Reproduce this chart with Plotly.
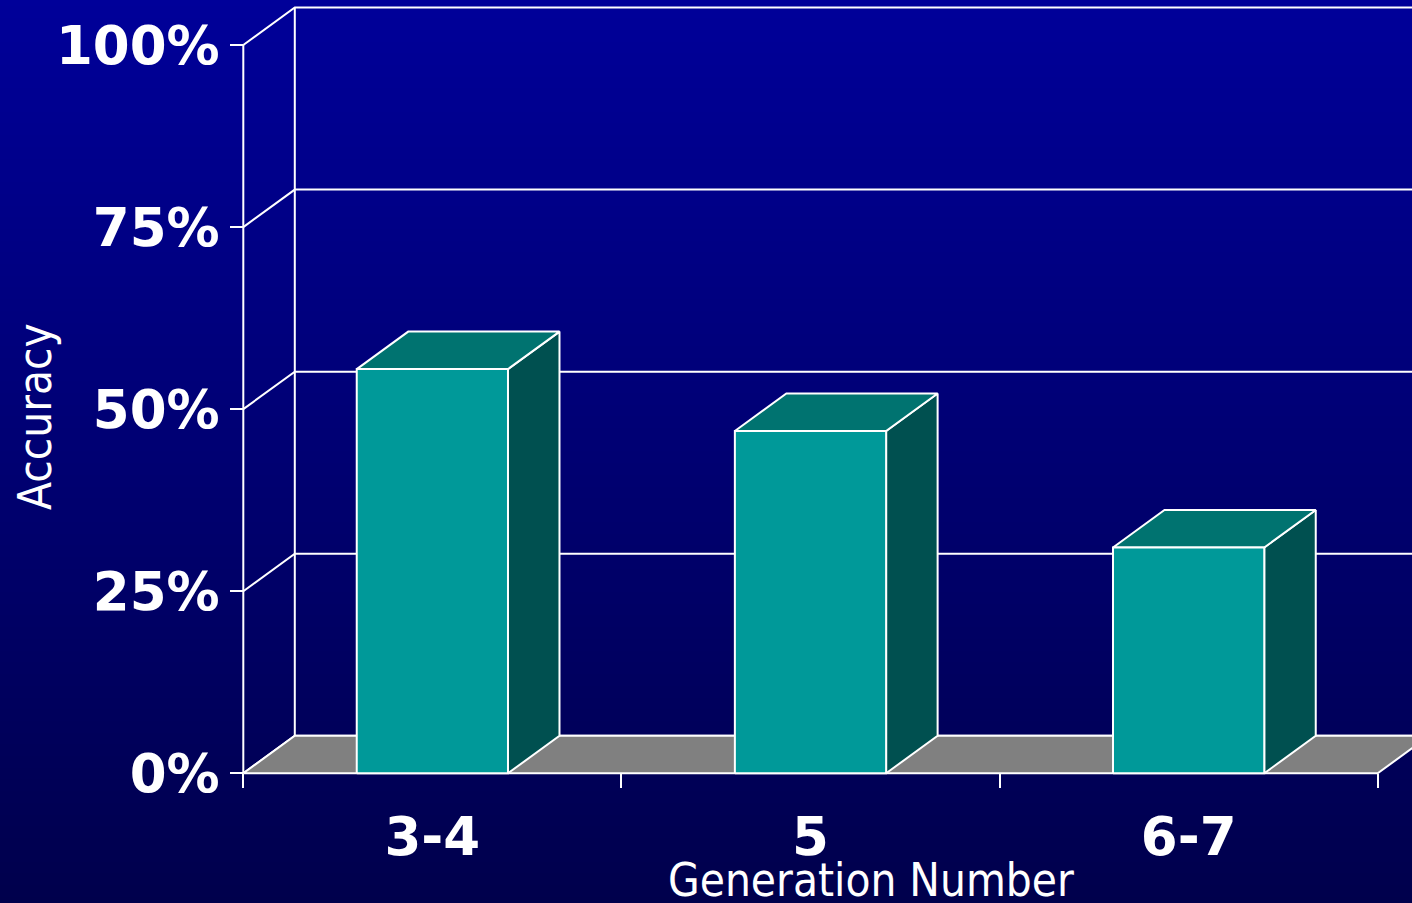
import base64
import struct
import zlib

import plotly.graph_objects as go

# ---------------- data ----------------
categories = ["3-4", "5", "6-7"]
accuracy = [55.5, 47.0, 31.0]          # percent
y_ticks = [0, 25, 50, 75, 100]
y_tick_labels = ["0%", "25%", "50%", "75%", "100%"]
x_title = "Generation Number"
y_title = "Accuracy"

# ---------------- style / geometry ----------------
W, H = 1412, 903
X_ORIGIN_PX, X_UNIT_PX = 243.3, 378.13      # category unit width in px
Y_ORIGIN_PX, Y_UNIT_PX = 773.3, 7.283       # px per percent
X_RANGE = [-X_ORIGIN_PX / X_UNIT_PX, (W - X_ORIGIN_PX) / X_UNIT_PX]
Y_RANGE = [-(H - Y_ORIGIN_PX) / Y_UNIT_PX, Y_ORIGIN_PX / Y_UNIT_PX]
DX = 51.5 / X_UNIT_PX        # 3-D depth offset (category units)
DY = 37.5 / Y_UNIT_PX        # 3-D depth offset (percent units)
BAR_HALF = 0.2

FRONT = "#009999"
TOP = "#007370"
SIDE = "#005050"
FLOOR = "#808080"
EDGE = "white"
LW = 2
BOLD_FONT = "DejaVu Sans"
TITLE_FONT = "DejaVu Sans Condensed, DejaVu Sans"


def gradient_png(top, bottom, height):
    raw = b""
    for i in range(height):
        t = i / (height - 1)
        px = bytes(int(round(a + (b - a) * t)) for a, b in zip(top, bottom))
        raw += b"\x00" + px

    def chunk(tag, data):
        return (struct.pack(">I", len(data)) + tag + data
                + struct.pack(">I", zlib.crc32(tag + data) & 0xFFFFFFFF))

    png = (b"\x89PNG\r\n\x1a\n"
           + chunk(b"IHDR", struct.pack(">IIBBBBB", 1, height, 8, 2, 0, 0, 0))
           + chunk(b"IDAT", zlib.compress(raw, 9))
           + chunk(b"IEND", b""))
    return "data:image/png;base64," + base64.b64encode(png).decode()


n = len(categories)
centers = [i + 0.5 for i in range(n)]
bounds = list(range(n + 1))

fig = go.Figure()

# back wall gridlines and left wall slants
gx, gy = [], []
for v in y_ticks:
    gx += [0, DX, n + DX, None]
    gy += [v, v + DY, v + DY, None]
gx += [DX, DX, None]
gy += [y_ticks[0] + DY, y_ticks[-1] + DY, None]
fig.add_trace(go.Scatter(x=gx, y=gy, mode="lines",
                         line=dict(color=EDGE, width=LW), hoverinfo="skip"))

# floor
fig.add_trace(go.Scatter(x=[0, n, n + DX, DX, 0], y=[0, 0, DY, DY, 0],
                         mode="lines", fill="toself", fillcolor=FLOOR,
                         line=dict(color=EDGE, width=LW), hoverinfo="skip"))

# 3-D bars
for c, v in zip(centers, accuracy):
    l, r = c - BAR_HALF, c + BAR_HALF
    faces = [
        (SIDE, [r, r + DX, r + DX, r, r], [0, DY, v + DY, v, 0]),
        (TOP, [l, r, r + DX, l + DX, l], [v, v, v + DY, v + DY, v]),
        (FRONT, [l, r, r, l, l], [0, 0, v, v, 0]),
    ]
    for col, fx, fy in faces:
        fig.add_trace(go.Scatter(x=fx, y=fy, mode="lines", fill="toself",
                                 fillcolor=col,
                                 line=dict(color=EDGE, width=LW),
                                 hoverinfo="skip"))

# front value axis line
fig.add_trace(go.Scatter(x=[0, 0], y=[y_ticks[0], y_ticks[-1]], mode="lines",
                         line=dict(color=EDGE, width=LW), hoverinfo="skip"))

# invisible trace to carry the boundary-tick axis
fig.add_trace(go.Scatter(x=bounds, y=[0] * len(bounds), mode="markers",
                         marker=dict(opacity=0), xaxis="x2",
                         hoverinfo="skip"))

fig.update_layout(
    width=W, height=H,
    margin=dict(l=0, r=0, t=0, b=0),
    paper_bgcolor="#000073",
    plot_bgcolor="rgba(0,0,0,0)",
    showlegend=False,
    hovermode=False,
    images=[dict(source=gradient_png((0, 0, 153), (0, 0, 76), H),
                 xref="paper", yref="paper", x=0, y=1, sizex=1, sizey=1,
                 xanchor="left", yanchor="top", sizing="stretch",
                 layer="below")],
    xaxis=dict(range=X_RANGE, anchor="free",
               position=(H - Y_ORIGIN_PX) / H,
               tickvals=centers, ticktext=categories, ticks="",
               showgrid=False, zeroline=False, showline=False,
               tickfont=dict(family=BOLD_FONT, size=53, color="white",
                             weight="bold"),
               ticklabelstandoff=28, fixedrange=True),
    xaxis2=dict(range=X_RANGE, overlaying="x", anchor="free",
                position=(H - Y_ORIGIN_PX) / H,
                tickvals=bounds, ticks="outside", ticklen=14, tickwidth=LW,
                tickcolor=EDGE, showticklabels=False, showgrid=False,
                zeroline=False, showline=False, fixedrange=True),
    yaxis=dict(range=Y_RANGE, anchor="free",
               position=X_ORIGIN_PX / W,
               tickvals=y_ticks, ticktext=y_tick_labels,
               ticks="outside", ticklen=13, tickwidth=LW, tickcolor=EDGE,
               showgrid=False, zeroline=False, showline=False,
               tickfont=dict(family=BOLD_FONT, size=53, color="white",
                             weight="bold"),
               ticklabelstandoff=0, fixedrange=True),
    annotations=[
        dict(text=x_title, xref="paper", yref="paper",
             x=871 / W, y=(H - 880) / H, xanchor="center", yanchor="middle",
             showarrow=False,
             font=dict(family=TITLE_FONT, size=45.5, color="white")),
        dict(text=y_title, xref="paper", yref="paper",
             x=35 / W, y=(H - 417) / H, xanchor="center", yanchor="middle",
             textangle=-90, showarrow=False,
             font=dict(family=TITLE_FONT, size=45.5, color="white")),
    ],
)

fig.write_html("out.html")
